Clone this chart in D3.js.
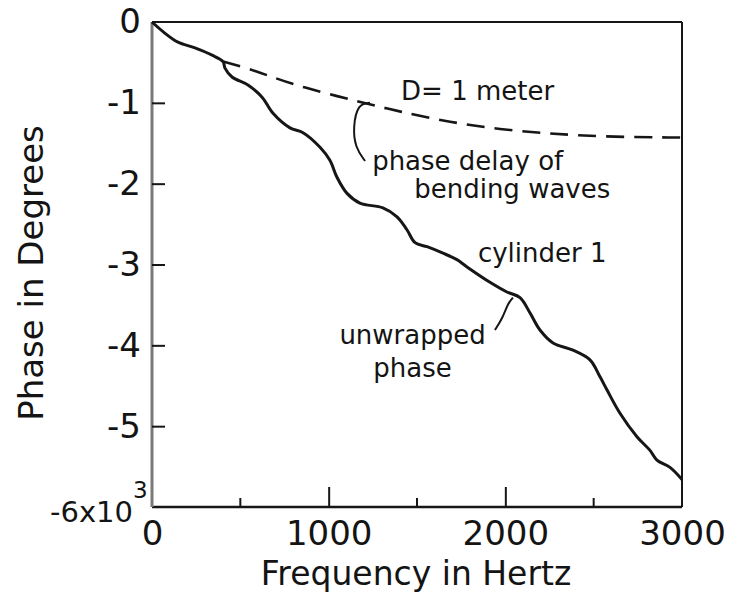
<!DOCTYPE html>
<html>
<head>
<meta charset="utf-8">
<script src="https://cdn.jsdelivr.net/npm/d3@7"></script>
<style>
body{margin:0;background:#fff}
svg text{font-family:"DejaVu Sans",sans-serif;fill:#141414}
</style>
</head>
<body>
<svg width="736" height="597"></svg>
<script>
// phase in units of 10^3 degrees
const freqTicks = [0, 1000, 2000, 3000]
const minorFreqTicks = [500, 1500, 2500]
const phaseTicks = [0, -1, -2, -3, -4, -5, -6]

const cylFreq = [0, 74, 147, 243, 340, 402, 413, 453, 543, 623, 685, 781, 855, 951, 1007, 1047, 1104, 1177, 1307, 1387, 1443, 1489, 1557, 1647, 1726, 1783, 1913, 2009, 2083, 2140, 2196, 2270, 2383, 2479, 2536, 2575, 2649, 2745, 2819, 2858, 2932, 3000]
const cylPhase = [0, -0.14, -0.25, -0.32, -0.41, -0.49, -0.57, -0.68, -0.78, -0.93, -1.13, -1.31, -1.37, -1.55, -1.71, -1.92, -2.12, -2.24, -2.30, -2.41, -2.57, -2.73, -2.78, -2.86, -2.94, -3.03, -3.22, -3.34, -3.41, -3.60, -3.81, -3.97, -4.06, -4.18, -4.39, -4.55, -4.84, -5.13, -5.30, -5.42, -5.51, -5.66]

const bendFreq = [402, 526, 679, 838, 1177, 1404, 1687, 1970, 2253, 2536, 3000]
const bendPhase = [-0.49, -0.56, -0.68, -0.80, -0.99, -1.11, -1.24, -1.33, -1.38, -1.42, -1.43]

const notes = [
  {text: "D= 1 meter", f: 1410, p: -0.96},
  {text: "phase delay of", f: 1246, p: -1.83},
  {text: "bending waves", f: 1484, p: -2.18},
  {text: "cylinder 1", f: 1845, p: -2.97},
  {text: "unwrapped", f: 1475, p: -3.98, mid: true},
  {text: "phase", f: 1475, p: -4.39, mid: true}
]
const braceF = [1206, 1150, 1138, 1166, 1234]
const braceP = [-1.72, -1.55, -1.30, -1.01, -1.00]
const leaderF = [1941, 1985, 2015, 2043]
const leaderP = [-3.81, -3.66, -3.48, -3.41]

const svg = d3.select("svg")
const x = d3.scaleLinear().domain([0, 3000]).range([152, 682])
const y = d3.scaleLinear().domain([0, -6]).range([22, 507])

const ink = "#161616"

// frame
svg.append("line").attr("x1", x(0)).attr("x2", x(3000)).attr("y1", y(0)).attr("y2", y(0))
  .attr("stroke", ink).attr("stroke-width", 2)
svg.append("line").attr("x1", x(3000)).attr("x2", x(3000)).attr("y1", y(0)).attr("y2", y(-6))
  .attr("stroke", ink).attr("stroke-width", 2)
svg.append("line").attr("x1", x(0)).attr("x2", x(3000)).attr("y1", y(-6)).attr("y2", y(-6))
  .attr("stroke", ink).attr("stroke-width", 2.5)
svg.append("line").attr("x1", x(0)).attr("x2", x(0)).attr("y1", y(0)).attr("y2", y(-6))
  .attr("stroke", "#7a7a7a").attr("stroke-width", 3)

// y axis
const yAxis = svg.append("g").attr("transform", `translate(${x(0)},0)`)
  .call(d3.axisLeft(y).tickValues(phaseTicks).tickSize(-13).tickPadding(11)
    .tickFormat(d => d === -6 ? "" : (d === 0 ? "0" : "-" + Math.abs(d))))
yAxis.select(".domain").remove()
yAxis.selectAll(".tick line").attr("stroke", ink).attr("stroke-width", 2)
  .filter(d => d === 0 || d === -6).remove()
yAxis.selectAll(".tick text").attr("font-size", 34).attr("fill", ink)
  .style("font-family", "DejaVu Sans")

svg.append("text").attr("x", 133).attr("y", y(-6) + 15).attr("text-anchor", "end")
  .attr("font-size", 29).text("-6x10")
svg.append("text").attr("x", 133).attr("y", y(-6) - 9)
  .attr("font-size", 23).text("3")

// x axis
const xAxis = svg.append("g").attr("transform", `translate(0,${y(-6)})`)
  .call(d3.axisBottom(x).tickValues(freqTicks).tickSize(-20).tickPadding(14).tickFormat(d3.format("d")))
xAxis.select(".domain").remove()
xAxis.selectAll(".tick line").attr("stroke", ink).attr("stroke-width", 2)
  .filter(d => d === 0 || d === 3000).remove()
xAxis.selectAll(".tick text").attr("font-size", 34).attr("fill", ink)
  .style("font-family", "DejaVu Sans")

svg.append("g").selectAll("line").data(minorFreqTicks).join("line")
  .attr("x1", d => x(d)).attr("x2", d => x(d))
  .attr("y1", y(-6)).attr("y2", y(-6) - 9)
  .attr("stroke", ink).attr("stroke-width", 2)

// axis titles
svg.append("text").attr("x", 416).attr("y", 585).attr("text-anchor", "middle")
  .attr("font-size", 33).text("Frequency in Hertz")
svg.append("text").attr("transform", "translate(43,273) rotate(-90)")
  .attr("text-anchor", "middle").attr("font-size", 34).text("Phase in Degrees")

// curves
const cyl = cylFreq.map((f, i) => [f, cylPhase[i]])
const bend = bendFreq.map((f, i) => [f, bendPhase[i]])
const line = d3.line().x(d => x(d[0])).y(d => y(d[1]))

svg.append("path").datum(bend)
  .attr("d", line.curve(d3.curveBasis))
  .attr("fill", "none").attr("stroke", ink).attr("stroke-width", 2.6)
  .attr("stroke-dasharray", "18 10")

svg.append("path").datum(cyl)
  .attr("d", line.curve(d3.curveCatmullRom))
  .attr("fill", "none").attr("stroke", ink).attr("stroke-width", 3)

// annotations
svg.append("g").selectAll("text").data(notes).join("text")
  .attr("x", d => x(d.f)).attr("y", d => y(d.p))
  .attr("text-anchor", d => d.mid ? "middle" : "start")
  .attr("font-size", 26).text(d => d.text)

svg.append("path").datum(braceF.map((f, i) => [f, braceP[i]]))
  .attr("d", line.curve(d3.curveBasis))
  .attr("fill", "none").attr("stroke", ink).attr("stroke-width", 2)
svg.append("path").datum(leaderF.map((f, i) => [f, leaderP[i]]))
  .attr("d", line.curve(d3.curveBasis))
  .attr("fill", "none").attr("stroke", ink).attr("stroke-width", 2)
</script>
</body>
</html>
